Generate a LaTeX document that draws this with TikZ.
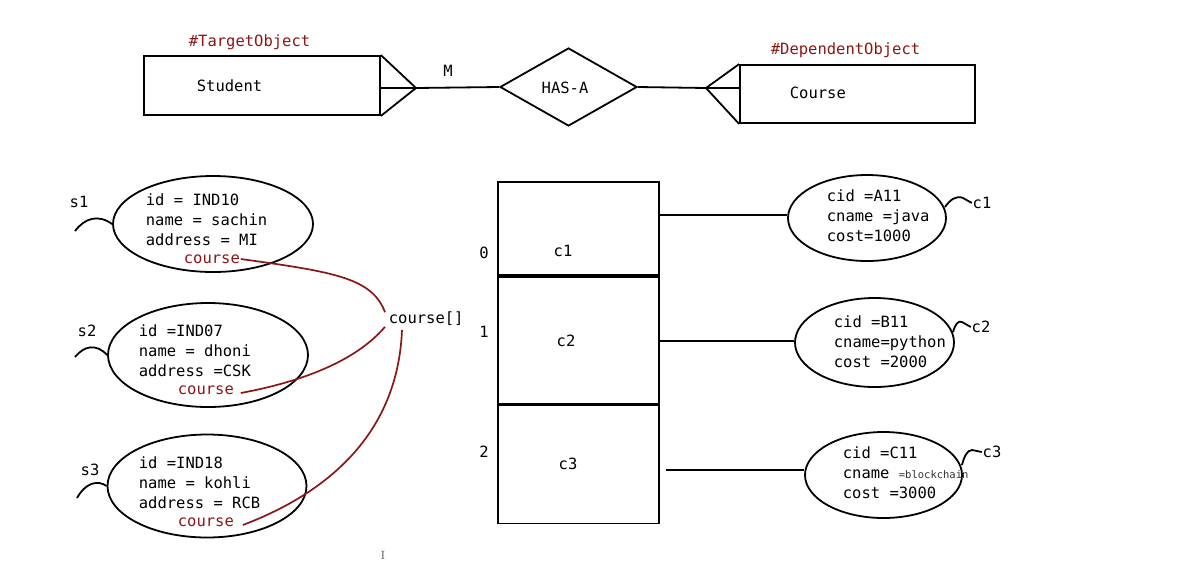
\documentclass[tikz,border=0pt]{standalone}
\usepackage{fontspec}
\setmonofont{DejaVu Sans Mono}
\usetikzlibrary{shapes.geometric,calc}
\definecolor{dred}{RGB}{140,22,22}
\begin{document}
\begin{tikzpicture}[x=1pt,y=-1pt,line width=1.8pt,
  txt/.style={font=\ttfamily\fontsize{15.5}{20}\selectfont,inner sep=0pt,align=left},
  rtxt/.style={txt,text=dred},
  box/.style={draw,inner sep=0pt},
  obj/.style={draw,ellipse,inner sep=0pt},
  link/.style={draw=dred,line width=1.7pt},
  tail/.style={line width=1.8pt}]
\useasboundingbox (0,0) rectangle (1196,566);
% ---- ER part ----
\node[box,minimum width=236,minimum height=59] (student) at (262,85.5) {};
\node[txt,anchor=west] (studentlbl) at (196,86) {Student};
\node[rtxt,anchor=west] (target) at (188,42) {\#TargetObject};
\coordinate (sf) at (416,88);
\draw (student.north east) -- (sf) -- (student.south east);
\draw (sf -| student.east) -- (sf);
\node[draw,diamond,inner sep=0pt,minimum width=137,minimum height=78] (has) at (568.5,87) {};
\node[txt] (haslbl) at (565,88) {HAS-A};
\node[txt] (mlbl) at (448,71) {M};
\draw (sf) -- (has.west);
\node[box,minimum width=235,minimum height=58] (course) at (857.5,94) {};
\node[txt,anchor=west] (courselbl) at (789,93) {Course};
\node[rtxt,anchor=west] (dep) at (770,50) {\#DependentObject};
\coordinate (cf) at (706,88);
\draw (has.east) -- (cf);
\draw (course.north west) -- (cf) -- (course.south west);
\draw (cf) -- (cf -| course.west);
% ---- student objects ----
\node[obj,minimum width=200,minimum height=96] (s1) at (213,224) {};
\node[txt,anchor=west] (s1t) at (145,220) {id = IND10\\name = sachin\\address = MI};
\node[rtxt,anchor=west] (s1c) at (183,259) {course};
\node[txt] (s1l) at (79,202) {s1};
\coordinate (s1e) at (75,231);
\draw[tail] (s1e) .. controls (85,218) and (98,214) .. (s1.west);
\node[obj,minimum width=200,minimum height=104] (s2) at (208,355) {};
\node[txt,anchor=west] (s2t) at (138,351) {id =IND07\\name = dhoni\\address =CSK};
\node[rtxt,anchor=west] (s2c) at (177,390) {course};
\node[txt] (s2l) at (87,331) {s2};
\coordinate (s2e) at (75,357);
\draw[tail] (s2e) .. controls (84,346) and (96,343) .. (s2.west);
\node[obj,minimum width=199,minimum height=103] (s3) at (207,486) {};
\node[txt,anchor=west] (s3t) at (138,483) {id =IND18\\name = kohli\\address = RCB};
\node[rtxt,anchor=west] (s3c) at (177,522) {course};
\node[txt] (s3l) at (90,470) {s3};
\coordinate (s3e) at (77,498);
\draw[tail] (s3e) .. controls (86,482) and (98,480) .. (s3.west);
\node[txt,anchor=west] (cl) at (388,319) {course[]};
\draw[link] (s1c.east) .. controls (335,272) and (372,278) .. ($(cl.north west)+(-3,1)$);
\draw[link] ($(s2c.east)+(6,3)$) .. controls (300,382) and (355,362) .. ($(cl.south west)+(-3,0)$);
\draw[link] ($(s3c.east)+(8,3)$) .. controls (330,492) and (398,432) .. ($(cl.south west)+(14,3)$);
% ---- array ----
\node[box,minimum width=161,minimum height=93,anchor=north west] (cell0) at (497,181) {};
\node[box,minimum width=161,minimum height=127,anchor=north west] (cell1) at (cell0.south west) {};
\node[box,minimum width=161,minimum height=118,anchor=north west] (cell2) at (cell1.south west) {};
\node[txt] (i0) at (484,253) {0};
\node[txt] (i1) at (484,332) {1};
\node[txt] (i2) at (484,452) {2};
\node[txt] (v0) at (563,251) {c1};
\node[txt] (v1) at (566,341) {c2};
\node[txt] (v2) at (568,464) {c3};
% ---- course objects ----
\node[obj,minimum width=158,minimum height=86] (o1) at (867,218) {};
\node[txt,anchor=west] (o1t) at (826,216) {cid =A11\\cname =java\\cost=1000};
\node[obj,minimum width=159,minimum height=89] (o2) at (874.5,342.5) {};
\node[txt,anchor=west] (o2t) at (833,342) {cid =B11\\cname=python\\cost =2000};
\node[obj,minimum width=157,minimum height=86] (o3) at (883.5,475) {};
\node[txt,anchor=west] (o3t) at (842,473) {cid =C11\\cname {\fontsize{10.5}{20}\selectfont\color{black!80}=blockchain}\\cost =3000};
\draw (cell0.east |- 0,215) -- (o1.west |- 0,215);
\draw (cell1.east |- 0,341) -- (o2.west |- 0,341);
\draw ([xshift=6pt]cell2.east |- 0,470) -- (o3.west |- 0,470);
\node[txt] (o1l) at (982,203) {c1};
\node[txt] (o2l) at (981,327) {c2};
\node[txt] (o3l) at (992,452) {c3};
\draw[tail] (945,207) .. controls (950,200) and (956,195) .. (963,198) -- (o1l.west);
\draw[tail] (953,332) .. controls (955,325) and (958,320) .. (962,322) -- (o2l.west);
\draw[tail] (962,465) .. controls (964,457) and (967,450) .. (972,450) -- (o3l.west);
% cursor
\node[font=\fontsize{12}{12}\selectfont,inner sep=0pt,text=black!70] (cursor) at (383,555) {I};
\end{tikzpicture}
\end{document}
